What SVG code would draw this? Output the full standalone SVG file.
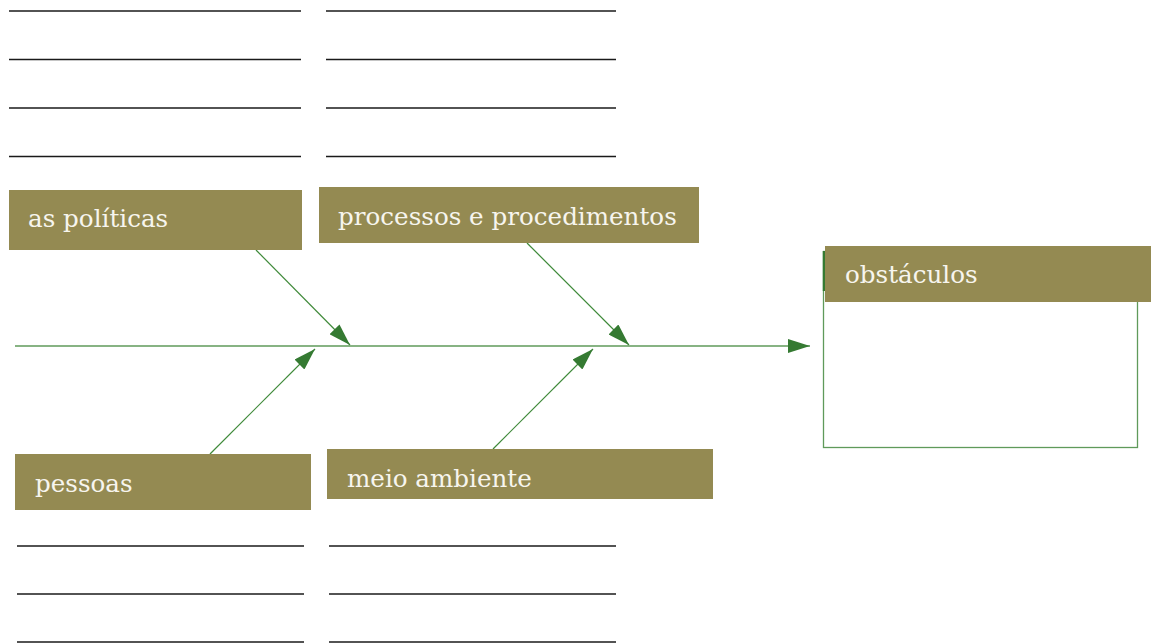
<svg xmlns="http://www.w3.org/2000/svg" width="1151" height="643" viewBox="0 0 1151 643">
<style>
.box{fill:#948a52}
.lbl{font-family:"DejaVu Serif","Liberation Serif",serif;font-size:24.6px;fill:#f7f5ee}
.rule{stroke:#1a1a1a;stroke-width:1.3}
.con{stroke:#3f8a3a;stroke-width:1.2;fill:none}
.spine{stroke:#5f9a5a;stroke-width:1.5;fill:none}
</style>
<defs>
<marker id="ah" viewBox="0 0 22 14" refX="22" refY="7" markerWidth="22" markerHeight="14" markerUnits="userSpaceOnUse" orient="auto">
<path d="M0,0 L22,7 L0,14 z" fill="#357a32"/>
</marker>
</defs>
<g id="rules">
<line class="rule" x1="9" y1="11" x2="301" y2="11"/>
<line class="rule" x1="9" y1="59.5" x2="301" y2="59.5"/>
<line class="rule" x1="9" y1="108" x2="301" y2="108"/>
<line class="rule" x1="9" y1="156.5" x2="301" y2="156.5"/>
<line class="rule" x1="326" y1="11" x2="616" y2="11"/>
<line class="rule" x1="326" y1="59.5" x2="616" y2="59.5"/>
<line class="rule" x1="326" y1="108" x2="616" y2="108"/>
<line class="rule" x1="326" y1="156.5" x2="616" y2="156.5"/>
<line class="rule" x1="17" y1="546" x2="304" y2="546"/>
<line class="rule" x1="17" y1="594" x2="304" y2="594"/>
<line class="rule" x1="17" y1="642" x2="304" y2="642"/>
<line class="rule" x1="329" y1="546" x2="616" y2="546"/>
<line class="rule" x1="329" y1="594" x2="616" y2="594"/>
<line class="rule" x1="329" y1="642" x2="616" y2="642"/>
</g>
<g id="connectors">
<line class="spine" x1="15" y1="346" x2="810" y2="346" marker-end="url(#ah)"/>
<line class="con" x1="256" y1="250" x2="350" y2="345" marker-end="url(#ah)"/>
<line class="con" x1="527" y1="243" x2="629" y2="345" marker-end="url(#ah)"/>
<line class="con" x1="210" y1="454" x2="315" y2="349" marker-end="url(#ah)"/>
<line class="con" x1="493" y1="449" x2="593" y2="349" marker-end="url(#ah)"/>
</g>
<g id="politicas">
<rect class="box" x="9" y="190" width="293" height="60"/>
<text class="lbl" x="28" y="227">as políticas</text>
</g>
<g id="processos">
<rect class="box" x="319" y="187" width="380" height="56"/>
<text class="lbl" x="338" y="225">processos e procedimentos</text>
</g>
<g id="pessoas">
<rect class="box" x="15" y="454" width="296" height="56"/>
<text class="lbl" x="35" y="492">pessoas</text>
</g>
<g id="meio">
<rect class="box" x="327" y="449" width="386" height="50"/>
<text class="lbl" x="347" y="487">meio ambiente</text>
</g>
<g id="obstaculos">
<rect x="823.5" y="251.5" width="314" height="196" fill="#fff" stroke="#5f9a5a" stroke-width="1.3"/>
<line x1="824" y1="251" x2="824" y2="291" stroke="#357a32" stroke-width="2.5"/>
<rect class="box" x="825" y="246" width="326" height="56"/>
<text class="lbl" x="845" y="283">obstáculos</text>
</g>
</svg>
